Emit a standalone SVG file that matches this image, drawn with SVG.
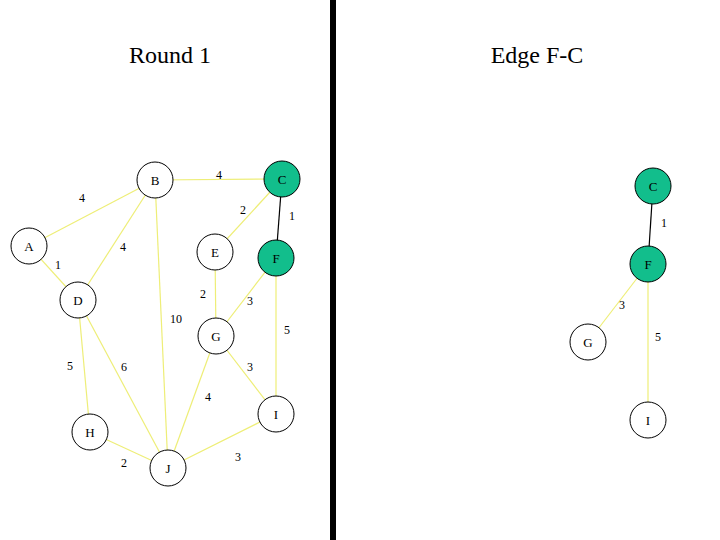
<svg xmlns="http://www.w3.org/2000/svg" width="720" height="540" viewBox="0 0 720 540">
<style>
.e{stroke:#EEEE77;stroke-width:1.2;fill:none}
.k{stroke:#000;stroke-width:1.2;fill:none}
.n{fill:#fff;stroke:#000;stroke-width:1}
.s{fill:#12BE8C;stroke:#000;stroke-width:1}
.t{font-family:"Liberation Serif","Times New Roman",serif;font-size:13px;text-anchor:middle;fill:#000}
.l{font-family:"Liberation Serif","Times New Roman",serif;font-size:12px;text-anchor:middle;fill:#000}
.h{font-family:"Liberation Serif","Times New Roman",serif;font-size:24px;text-anchor:middle;fill:#000}
</style>
<rect width="720" height="540" fill="#fff"/>
<rect x="330" y="0" width="6" height="540" fill="#000"/>
<text class="h" x="170" y="63">Round 1</text>
<text class="h" x="537" y="63">Edge F-C</text>
<g id="connectors">
<line class="e" x1="29" y1="246" x2="155" y2="180"/>
<line class="e" x1="155" y1="180" x2="282" y2="179"/>
<line class="e" x1="282" y1="179" x2="215" y2="252"/>
<line class="k" x1="282" y1="179" x2="276" y2="258"/>
<line class="e" x1="155" y1="180" x2="78" y2="300"/>
<line class="e" x1="29" y1="246" x2="78" y2="300"/>
<line class="e" x1="155" y1="180" x2="168" y2="468"/>
<line class="e" x1="215" y1="252" x2="216" y2="336"/>
<line class="e" x1="276" y1="258" x2="216" y2="336"/>
<line class="e" x1="276" y1="258" x2="276" y2="414"/>
<line class="e" x1="78" y1="300" x2="90" y2="432"/>
<line class="e" x1="78" y1="300" x2="168" y2="468"/>
<line class="e" x1="216" y1="336" x2="276" y2="414"/>
<line class="e" x1="216" y1="336" x2="168" y2="468"/>
<line class="e" x1="90" y1="432" x2="168" y2="468"/>
<line class="e" x1="276" y1="414" x2="168" y2="468"/>
<line class="k" x1="653" y1="186" x2="648" y2="264"/>
<line class="e" x1="648" y1="264" x2="588" y2="342"/>
<line class="e" x1="648" y1="264" x2="648" y2="420"/>
</g>
<g id="edge-labels">
<text class="l" x="82" y="202">4</text>
<text class="l" x="219" y="179">4</text>
<text class="l" x="243" y="214">2</text>
<text class="l" x="292" y="220">1</text>
<text class="l" x="123" y="251">4</text>
<text class="l" x="58" y="269">1</text>
<text class="l" x="203" y="298">2</text>
<text class="l" x="250" y="305">3</text>
<text class="l" x="176" y="323">10</text>
<text class="l" x="287" y="334">5</text>
<text class="l" x="70" y="370">5</text>
<text class="l" x="124" y="371">6</text>
<text class="l" x="250" y="371">3</text>
<text class="l" x="208" y="401">4</text>
<text class="l" x="124" y="467">2</text>
<text class="l" x="238" y="461">3</text>
<text class="l" x="664" y="227">1</text>
<text class="l" x="622" y="309">3</text>
<text class="l" x="658" y="341">5</text>
</g>
<g id="A"><circle class="n" cx="29" cy="246" r="18"/><text class="t" x="29" y="251">A</text></g>
<g id="B"><circle class="n" cx="155" cy="180" r="18"/><text class="t" x="155" y="185">B</text></g>
<g id="C"><circle class="s" cx="282" cy="179" r="18"/><text class="t" x="282" y="184">C</text></g>
<g id="D"><circle class="n" cx="78" cy="300" r="18"/><text class="t" x="78" y="305">D</text></g>
<g id="E"><circle class="n" cx="215" cy="252" r="18"/><text class="t" x="215" y="257">E</text></g>
<g id="F"><circle class="s" cx="276" cy="258" r="18"/><text class="t" x="276" y="263">F</text></g>
<g id="G"><circle class="n" cx="216" cy="336" r="18"/><text class="t" x="216" y="341">G</text></g>
<g id="H"><circle class="n" cx="90" cy="432" r="18"/><text class="t" x="90" y="437">H</text></g>
<g id="I"><circle class="n" cx="276" cy="414" r="18"/><text class="t" x="276" y="419">I</text></g>
<g id="J"><circle class="n" cx="168" cy="468" r="18"/><text class="t" x="168" y="473">J</text></g>
<g id="C2"><circle class="s" cx="653" cy="186" r="18"/><text class="t" x="653" y="191">C</text></g>
<g id="F2"><circle class="s" cx="648" cy="264" r="18"/><text class="t" x="648" y="269">F</text></g>
<g id="G2"><circle class="n" cx="588" cy="342" r="18"/><text class="t" x="588" y="347">G</text></g>
<g id="I2"><circle class="n" cx="648" cy="420" r="18"/><text class="t" x="648" y="425">I</text></g>
</svg>
